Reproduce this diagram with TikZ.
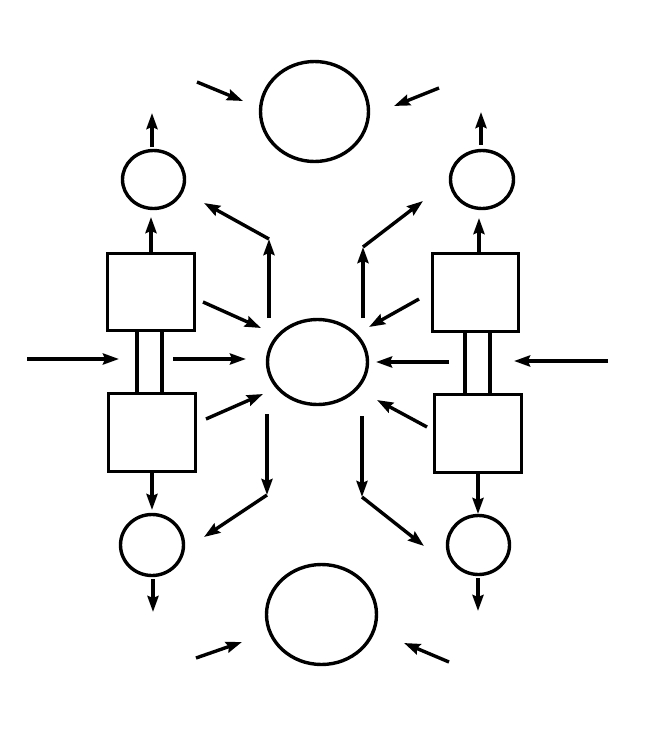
\documentclass[tikz,border=0pt]{standalone}
\usetikzlibrary{shapes.geometric,arrows.meta}
\begin{document}
\begin{tikzpicture}[x=1pt,y=-1pt,
  ln/.style={line width=3.4pt},
  arr/.style={ln,-{Stealth[length=16pt,width=11pt,inset=2pt]}},
  ell/.style={ellipse,draw,ln,inner sep=0pt},
  boxn/.style={rectangle,draw,ln,inner sep=0pt}]
\useasboundingbox (0,0) rectangle (660,747);
% nodes
\node[ell,minimum width=108pt,minimum height=100pt] (topE) at (314.5,111.5) {};
\node[ell,minimum width=110pt,minimum height=100pt] (botE) at (321.5,614.5) {};
\node[ell,minimum width=100pt,minimum height=85pt] (cE) at (317.5,362) {};
\node[ell,minimum width=62pt,minimum height=58pt] (tlC) at (153.5,179.5) {};
\node[ell,minimum width=63pt,minimum height=58pt] (trC) at (482,179.5) {};
\node[ell,minimum width=63pt,minimum height=61pt] (blC) at (152,545) {};
\node[ell,minimum width=62pt,minimum height=59pt] (brC) at (478.5,545) {};
\node[boxn,minimum width=87pt,minimum height=77pt] (tlB) at (151,292) {};
\node[boxn,minimum width=87pt,minimum height=78pt] (blB) at (152,432.5) {};
\node[boxn,minimum width=86pt,minimum height=78pt] (trB) at (475.5,292.5) {};
\node[boxn,minimum width=87pt,minimum height=78pt] (brB) at (478,433.5) {};
% stems
\coordinate (sl1) at (137,0); \coordinate (sl2) at (162,0);
\coordinate (sr1) at (465,0); \coordinate (sr2) at (490,0);
\draw[ln] (tlB.south -| sl1) -- (blB.north -| sl1);
\draw[ln] (tlB.south -| sl2) -- (blB.north -| sl2);
\draw[ln] (trB.south -| sr1) -- (brB.north -| sr1);
\draw[ln] (trB.south -| sr2) -- (brB.north -| sr2);
% free-end coordinates
\coordinate (a1s) at (197,82);  \coordinate (a1e) at (243,101);
\coordinate (a2s) at (439,88);  \coordinate (a2e) at (394,106);
\coordinate (a3s) at (152,147); \coordinate (a3e) at (152,113);
\coordinate (a4s) at (481,145); \coordinate (a4e) at (481,112);
\coordinate (a5e) at (151,217);
\coordinate (a6e) at (479,218);
\coordinate (a7s) at (269,318); \coordinate (a7e) at (269,239);
\coordinate (a8e) at (204,203);
\coordinate (a9s) at (363,318); \coordinate (a9e) at (363,247);
\coordinate (a10e) at (423,201);
\coordinate (a11s) at (203,302); \coordinate (a11e) at (261,328);
\coordinate (a12s) at (419,299); \coordinate (a12e) at (369,327);
\coordinate (a13s) at (27,359);  \coordinate (a13e) at (119,359);
\coordinate (a14s) at (173,359); \coordinate (a14e) at (246,359);
\coordinate (a15s) at (449,362); \coordinate (a15e) at (376,362);
\coordinate (a16s) at (608,361); \coordinate (a16e) at (514,361);
\coordinate (a17s) at (206,419); \coordinate (a17e) at (263,394);
\coordinate (a18s) at (427,427); \coordinate (a18e) at (377,400);
\coordinate (a19s) at (267,414); \coordinate (a19e) at (267,495);
\coordinate (a20e) at (204,537);
\coordinate (a21s) at (362,416); \coordinate (a21e) at (362,497);
\coordinate (a22e) at (424,546);
\coordinate (a23e) at (152,510);
\coordinate (a24e) at (478,514);
\coordinate (a25s) at (153,579); \coordinate (a25e) at (153,612);
\coordinate (a26s) at (478,578); \coordinate (a26e) at (478,611);
\coordinate (a27s) at (196,658); \coordinate (a27e) at (242,642);
\coordinate (a28s) at (449,662); \coordinate (a28e) at (404,643);
% arrows
\draw[arr] (a1s) -- (a1e);
\draw[arr] (a2s) -- (a2e);
\draw[arr] (a3s) -- (a3e);
\draw[arr] (a4s) -- (a4e);
\draw[arr] (tlB.north) -- (a5e);
\draw[arr] (trB.north -| a6e) -- (a6e);
\draw[arr] (a7s) -- (a7e);
\draw[arr] (a7e) -- (a8e);
\draw[arr] (a9s) -- (a9e);
\draw[arr] (a9e) -- (a10e);
\draw[arr] (a11s) -- (a11e);
\draw[arr] (a12s) -- (a12e);
\draw[arr] (a13s) -- (a13e);
\draw[arr] (a14s) -- (a14e);
\draw[arr] (a15s) -- (a15e);
\draw[arr] (a16s) -- (a16e);
\draw[arr] (a17s) -- (a17e);
\draw[arr] (a18s) -- (a18e);
\draw[arr] (a19s) -- (a19e);
\draw[arr] (a19e) -- (a20e);
\draw[arr] (a21s) -- (a21e);
\draw[arr] (a21e) -- (a22e);
\draw[arr] (blB.south) -- (a23e);
\draw[arr] (brB.south) -- (a24e);
\draw[arr] (a25s) -- (a25e);
\draw[arr] (a26s) -- (a26e);
\draw[arr] (a27s) -- (a27e);
\draw[arr] (a28s) -- (a28e);
\end{tikzpicture}
\end{document}
